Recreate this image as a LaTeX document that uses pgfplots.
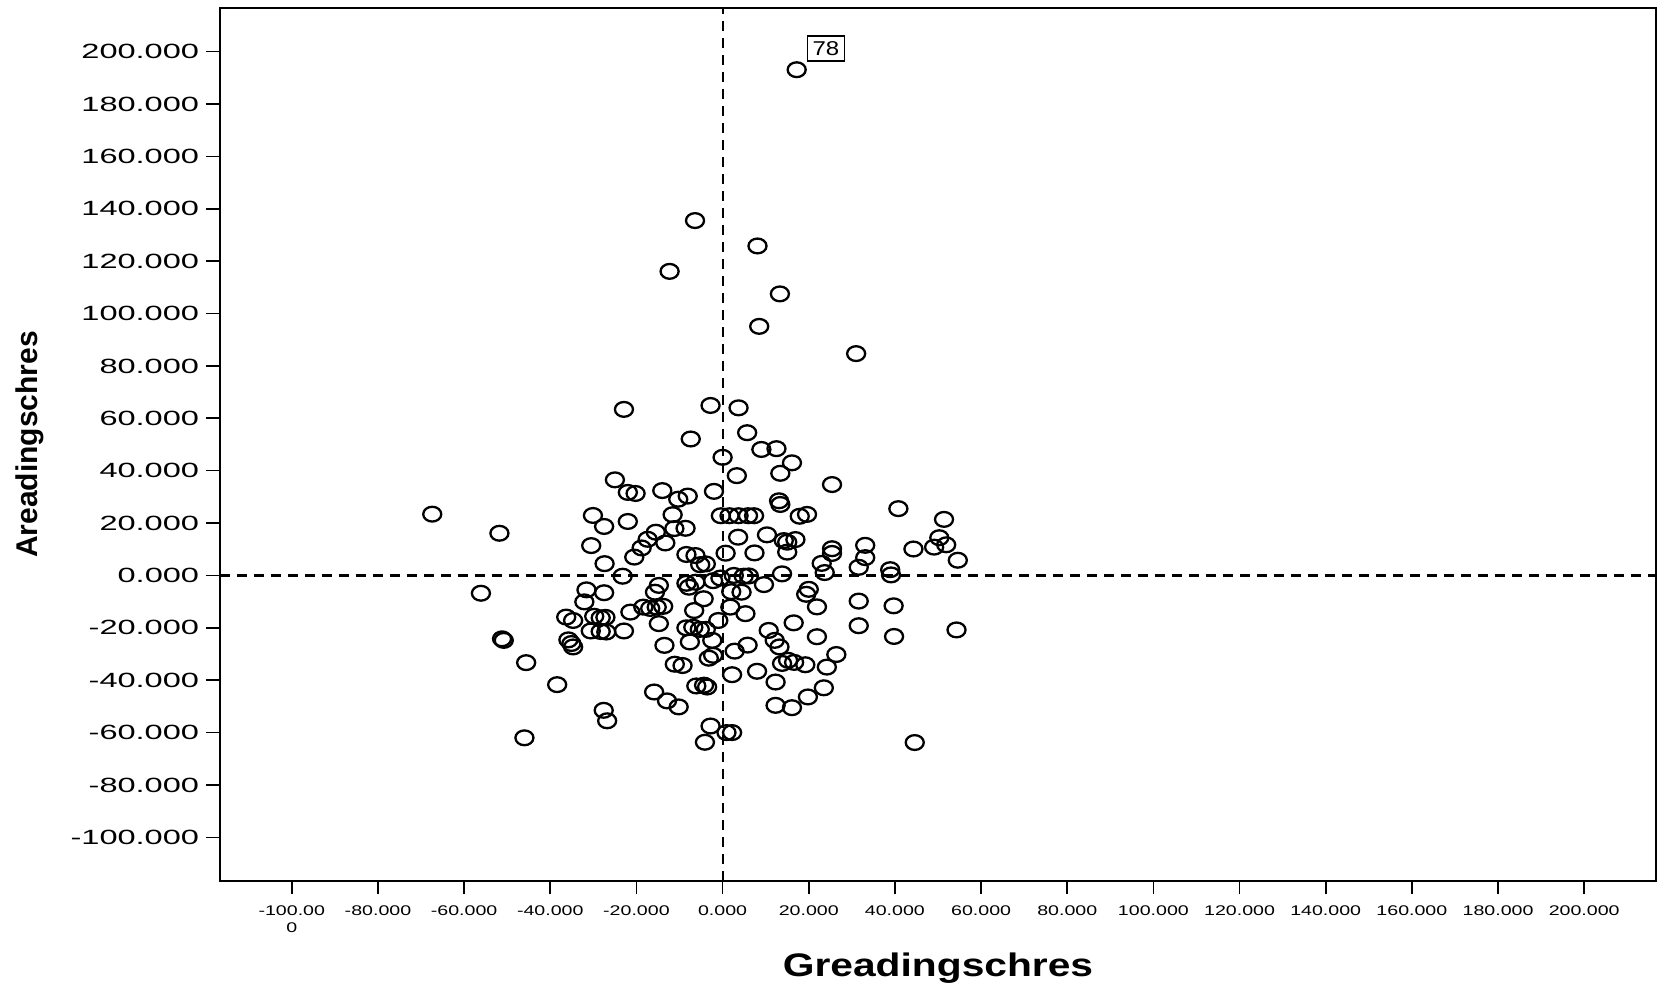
\documentclass[border=0pt]{standalone}
\usepackage{fontspec}
\setmainfont{Liberation Sans}
\newfontfamily\ytickfont[FakeStretch=1.58]{Liberation Sans}
\newfontfamily\xtickfont[FakeStretch=1.4]{Liberation Sans}
\newfontfamily\xlabfont[FakeStretch=1.25]{Liberation Sans}
\newfontfamily\boxfont[FakeStretch=1.2]{Liberation Sans}
\usepackage{pgfplots}
\pgfplotsset{compat=1.18}
\pgfplotstableread{
x y
17.2 193.1
-6.4 135.5
8.1 125.8
-12.3 116.1
13.3 107.5
8.5 95.1
31.0 84.7
-22.9 63.4
-2.8 64.9
3.7 64.0
5.7 54.5
-7.4 52.1
9.0 48.1
12.5 48.4
16.1 43.0
0.0 45.1
13.4 39.0
3.3 38.1
25.4 34.7
-25.0 36.5
-22.0 31.7
-20.2 31.3
-14.0 32.4
-10.3 29.1
-8.1 30.3
-2.0 32.1
13.1 28.5
13.4 27.1
40.8 25.5
51.4 21.4
-30.1 22.9
-27.5 18.7
-22.0 20.6
-11.6 23.2
-11.2 17.9
-8.6 18.0
-0.4 22.8
1.6 22.8
3.7 22.8
5.9 22.8
7.3 22.8
17.9 22.6
19.6 23.3
-67.4 23.4
-51.8 16.1
3.6 14.6
10.3 15.5
-15.5 16.5
-17.4 13.8
-18.8 10.5
-20.5 7.0
50.3 14.4
51.9 11.7
49.1 10.8
44.3 10.1
54.6 5.8
33.1 11.5
33.1 6.8
31.6 3.1
25.4 10.2
25.4 8.4
23.0 4.6
23.7 1.1
38.9 2.2
39.1 0.2
13.8 0.6
14.2 13.3
15.0 12.7
16.9 13.7
15.0 8.9
7.4 8.6
0.7 8.5
-30.5 11.4
-27.4 4.5
-23.2 -0.3
-13.3 12.4
-8.4 8.0
-6.3 7.6
-5.2 4.1
-3.9 4.4
-56.1 -6.8
-31.6 -5.5
-27.5 -6.6
-32.1 -10.1
-14.8 -3.8
-15.7 -6.4
-8.4 -3.0
-6.3 -2.6
-7.8 -4.5
-4.4 -8.9
-2.2 -2.0
-0.5 -1.0
2.6 0.0
4.9 -0.3
6.1 -0.2
2.0 -6.2
4.4 -6.4
9.6 -3.5
20.0 -5.3
19.4 -7.2
21.9 -12.0
31.6 -9.8
39.7 -11.6
1.8 -12.1
5.3 -14.6
-6.6 -13.4
-21.4 -14.0
-18.4 -12.1
-16.8 -12.6
-15.3 -12.1
-13.8 -11.8
-36.3 -15.9
-34.7 -17.2
-29.8 -15.6
-28.3 -16.2
-27.2 -16.0
-30.6 -21.2
-28.3 -21.4
-27.0 -21.6
-22.9 -21.2
-14.8 -18.4
-13.5 -26.7
-11.1 -33.9
-9.3 -34.4
-8.4 -20.0
-6.8 -19.8
-5.3 -20.6
-3.9 -20.6
-1.0 -17.2
-7.6 -25.4
-2.4 -24.8
-3.2 -31.6
-2.2 -30.5
2.8 -28.9
5.8 -26.6
-35.8 -24.6
-35.1 -26.0
-34.7 -27.3
-51.2 -24.2
-50.8 -24.8
10.7 -21.0
12.1 -24.8
13.2 -27.3
13.8 -33.6
15.2 -32.4
16.6 -33.2
16.5 -18.1
21.9 -23.4
19.2 -34.1
24.2 -35.0
26.4 -30.2
31.6 -19.2
39.8 -23.3
54.3 -20.8
2.2 -37.9
8.0 -36.6
-45.6 -33.3
-38.4 -41.7
-46.0 -62.0
-27.6 -51.5
-26.8 -55.5
-15.9 -44.5
-12.9 -47.9
-10.2 -50.2
-6.1 -42.2
-4.3 -41.9
-3.6 -42.6
-2.8 -57.5
0.9 -60.0
2.2 -60.0
-4.1 -63.7
12.3 -40.7
12.3 -49.6
16.1 -50.5
19.8 -46.4
23.5 -42.9
44.6 -63.8
}\residuals
\begin{document}
\begin{tikzpicture}
\useasboundingbox (-110pt,-53.5pt) rectangle (719.5pt,440.5pt);
\begin{axis}[
  at={(0,0)}, anchor=south west,
  width=718pt, height=436.5pt, scale only axis,
  xmin=-116.67, xmax=216.67, ymin=-116.67, ymax=216.67,
  axis line style={line width=0.8pt, black},
  tick align=outside,
  xtick pos=lower, ytick pos=left,
  major tick style={line width=0.8pt, black},
  xtick style={/pgfplots/major tick length=6.5pt},
  ytick style={/pgfplots/major tick length=7pt},
  xtick={-100,-80,-60,-40,-20,0,20,40,60,80,100,120,140,160,180,200},
  ytick={-100,-80,-60,-40,-20,0,20,40,60,80,100,120,140,160,180,200},
  xticklabels={{-100.00\\0},-80.000,-60.000,-40.000,-20.000,0.000,20.000,40.000,60.000,80.000,100.000,120.000,140.000,160.000,180.000,200.000},
  yticklabels={-100.000,-80.000,-60.000,-40.000,-20.000,0.000,20.000,40.000,60.000,80.000,100.000,120.000,140.000,160.000,180.000,200.000},
  xticklabel style={align=center, font=\xtickfont\fontsize{7}{8.5}\selectfont, anchor=north, inner sep=0pt, yshift=-8pt},
  yticklabel style={font=\ytickfont\fontsize{10.3}{12}\selectfont, anchor=east, inner sep=0pt, xshift=-6pt},
  xlabel={\xlabfont\bfseries\fontsize{16.3}{18}\selectfont Greadingschres},
  ylabel={\bfseries\fontsize{15}{17}\selectfont Areadingschres},
  xlabel style={at={(axis description cs:0.5,-0.0997)}, anchor=center},
  ylabel style={at={(axis description cs:-0.1323,0.5)}, anchor=center},
]
\addplot[black, line width=1.1pt, dash pattern=on 5pt off 3.5pt] coordinates {(0,-116.67) (0,216.67)};
\addplot[black, line width=1.1pt, dash pattern=on 5pt off 3.5pt] coordinates {(-116.67,0) (216.67,0)};
\addplot[only marks, mark=o, mark size=3.7pt, mark options={xscale=1.22, line width=1.15pt, black}] table[x=x, y=y] {\residuals};
\node[draw=black, line width=0.8pt, fill=white, minimum width=18.5pt, minimum height=12.5pt, inner sep=0pt, font=\boxfont\fontsize{10}{11}\selectfont] at (axis cs:24.0,201.1) {78};
\end{axis}
\end{tikzpicture}
\end{document}
